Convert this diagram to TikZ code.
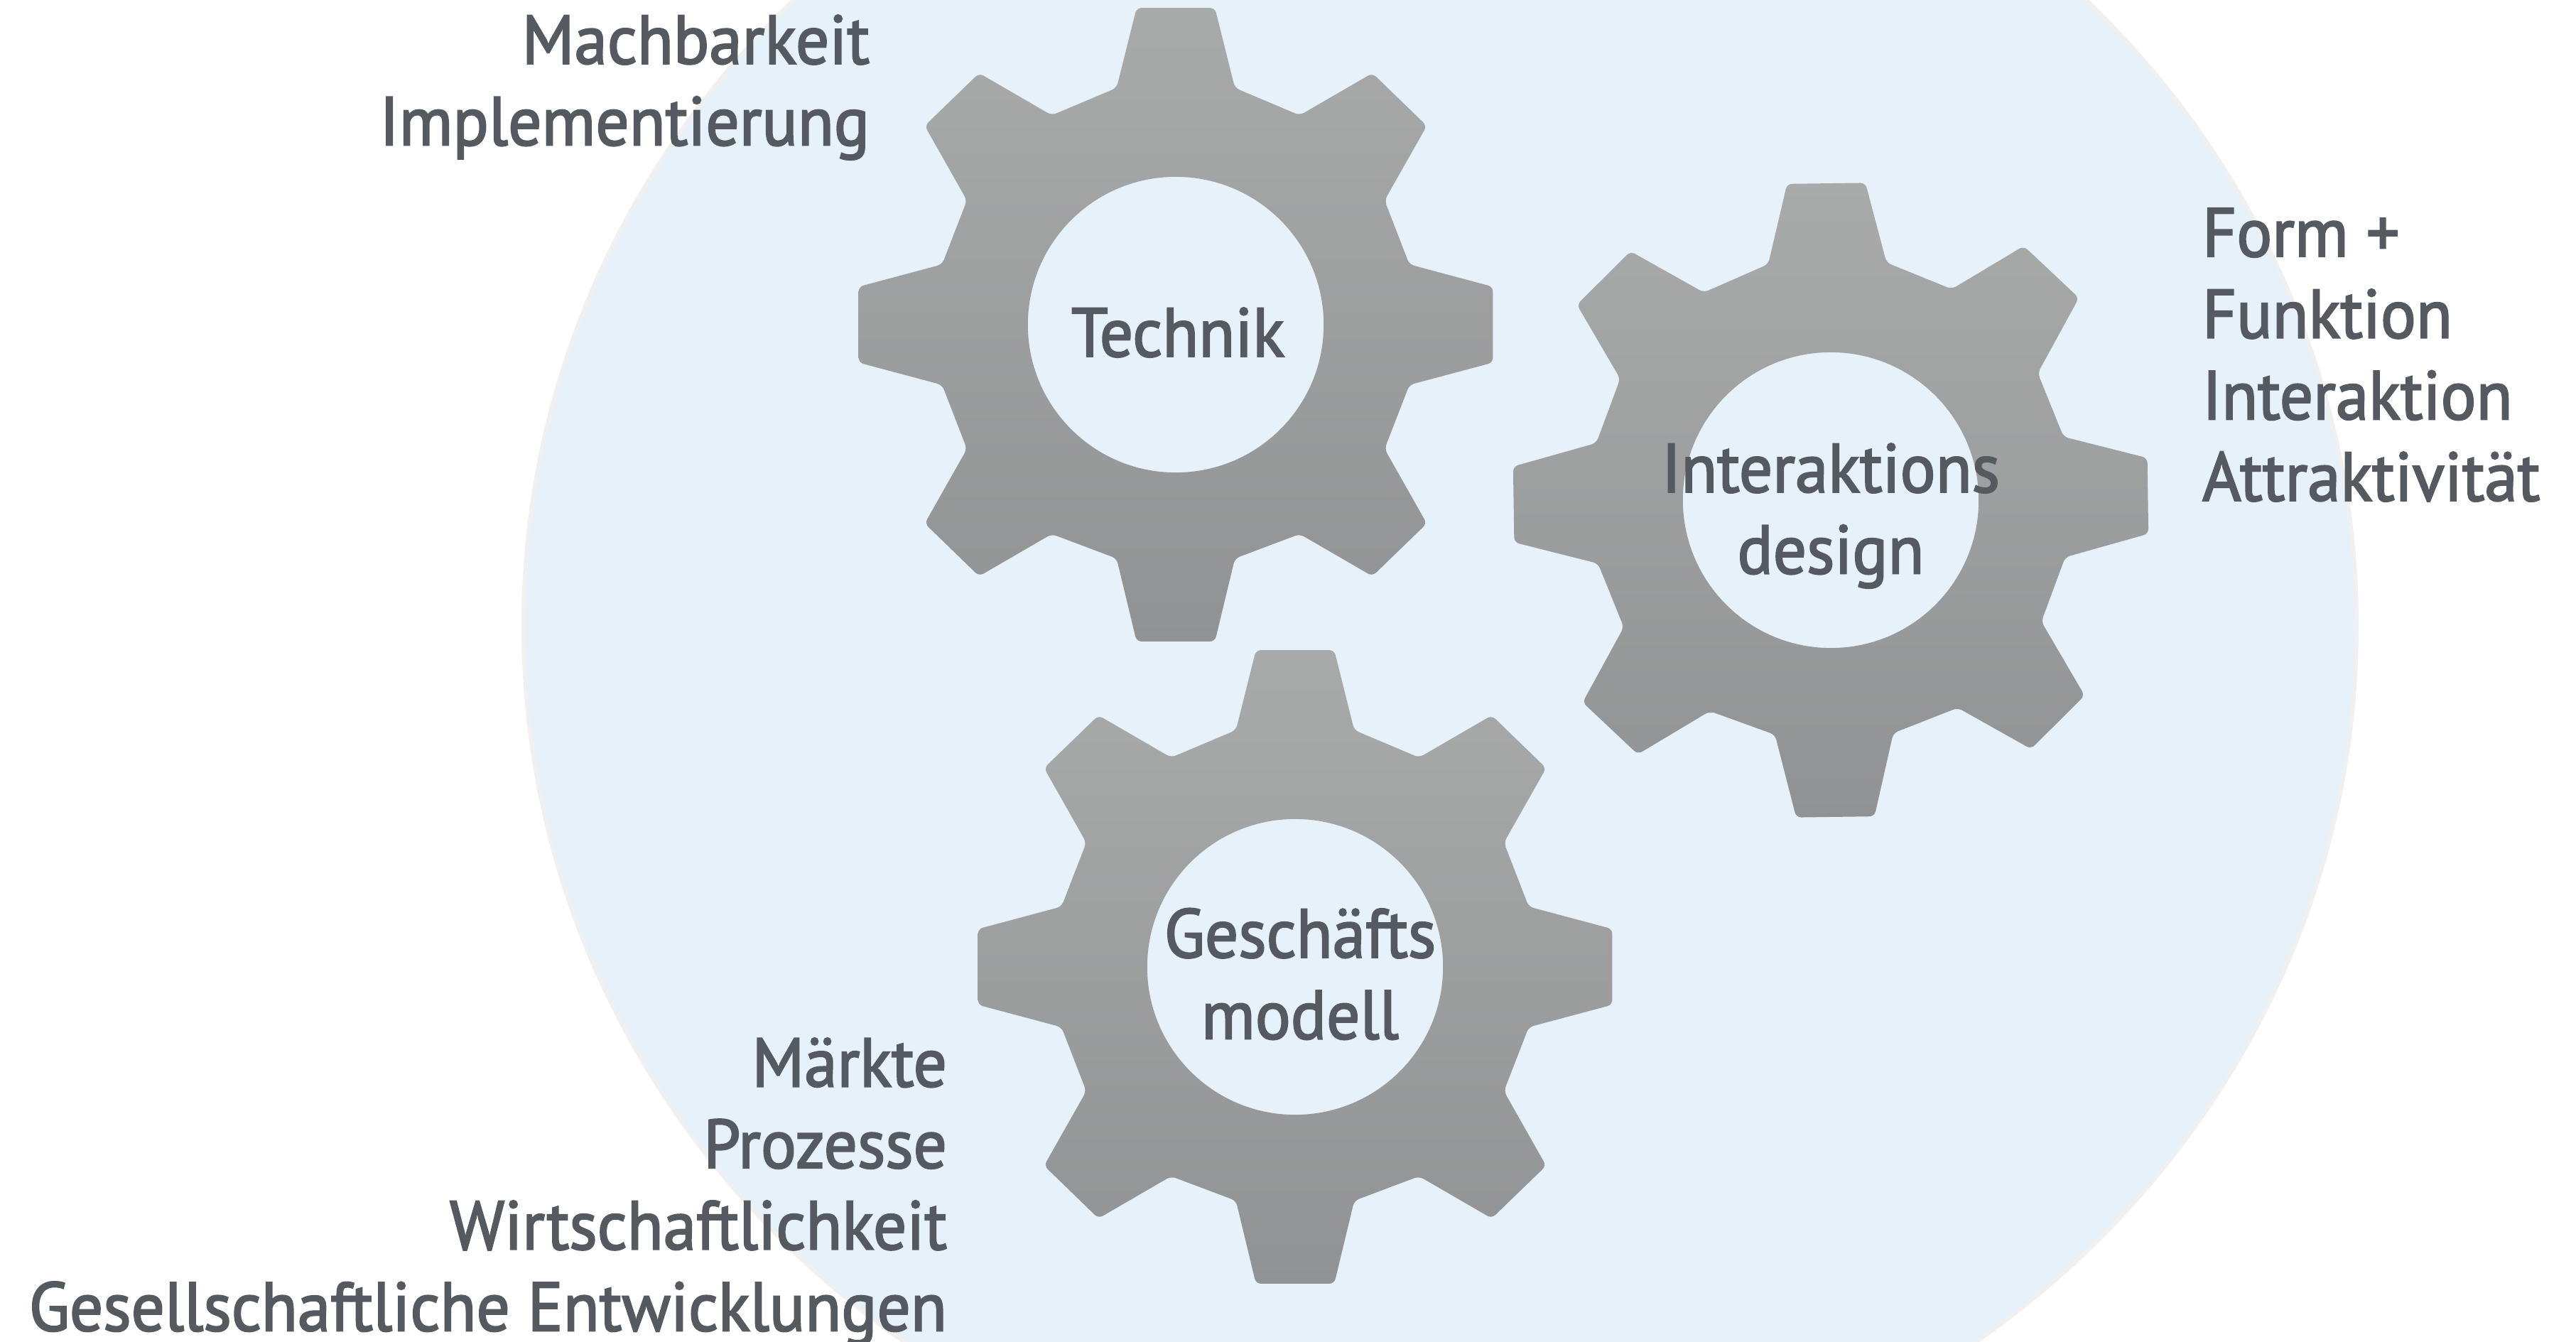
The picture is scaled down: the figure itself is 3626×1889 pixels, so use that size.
\documentclass[tikz,border=0pt]{standalone}
\usepackage{fontspec}
\setmainfont{PT Sans}[FakeBold=2.2,FakeStretch=0.96]
\definecolor{disc}{HTML}{E6F1FA}
\definecolor{discedge}{HTML}{F0F0F0}
\definecolor{txt}{HTML}{555A61}
\definecolor{geartop}{HTML}{A9AAAA}
\definecolor{gearbot}{HTML}{919293}
\tikzset{
  lbl/.style={text=txt,font=\fontsize{48.6}{57.3}\selectfont,inner sep=0pt,outer sep=0pt},
  gearfill/.style={top color=geartop,bottom color=gearbot,even odd rule,rounded corners=3.5pt},
  gearbody/.pic={
    \shade[gearfill]
      (-90,-752)--(90,-752)--(136,-562)--(285,-497)--(452,-597)--(577,-472)--(480,-295)--(537,-143)--(729,-90)
      --(729,90)--(537,143)--(480,295)--(577,472)--(452,597)--(285,497)--(136,555)--(90,752)
      --(-90,752)--(-136,555)--(-285,497)--(-452,597)--(-577,472)--(-480,295)--(-537,143)--(-729,90)
      --(-729,-90)--(-537,-143)--(-480,-295)--(-577,-472)--(-452,-597)--(-285,-497)--(-136,-562)--cycle
      [sharp corners] (0,0) ellipse [x radius=340,y radius=351];
  }
}
\begin{document}
\begin{tikzpicture}[x=0.5pt,y=-0.5pt]
\useasboundingbox (0,0) rectangle (3626,1889);
\clip (0,0) rectangle (3626,1889);
\fill[white] (0,0) rectangle (3626,1889);
\draw[fill=disc,draw=discedge,line width=3pt] (2027,881) ellipse [x radius=1290,y radius=1242];
\pic[shift={(1655,457)},xscale=0.6124,yscale=0.593] {gearbody};
\pic[shift={(2577,704)},xscale=0.6124,yscale=0.593,rotate=0.8] {gearbody};
\pic[shift={(1823,1361)},xscale=0.6124,yscale=0.593] {gearbody};
\node[lbl,align=center,anchor=center] (technik) at (1658,468) {Technik};
\node[lbl,align=center,anchor=center] (inter) at (2577,726) {Interaktions\\design};
\node[lbl,align=center,anchor=center] (gesch) at (1830,1371) {Geschäfts\\modell};
\node[lbl,align=right,anchor=north east] (t1) at (1224,21) {Machbarkeit\\Implementierung};
\node[lbl,align=left,anchor=north west] (t2) at (3100,293) {Form +\\Funktion\\Interaktion\\Attraktivität};
\node[lbl,align=right,anchor=north east] (t3) at (1333,1461) {Märkte\\Prozesse\\Wirtschaftlichkeit\\Gesellschaftliche Entwicklungen};
\end{tikzpicture}
\end{document}
